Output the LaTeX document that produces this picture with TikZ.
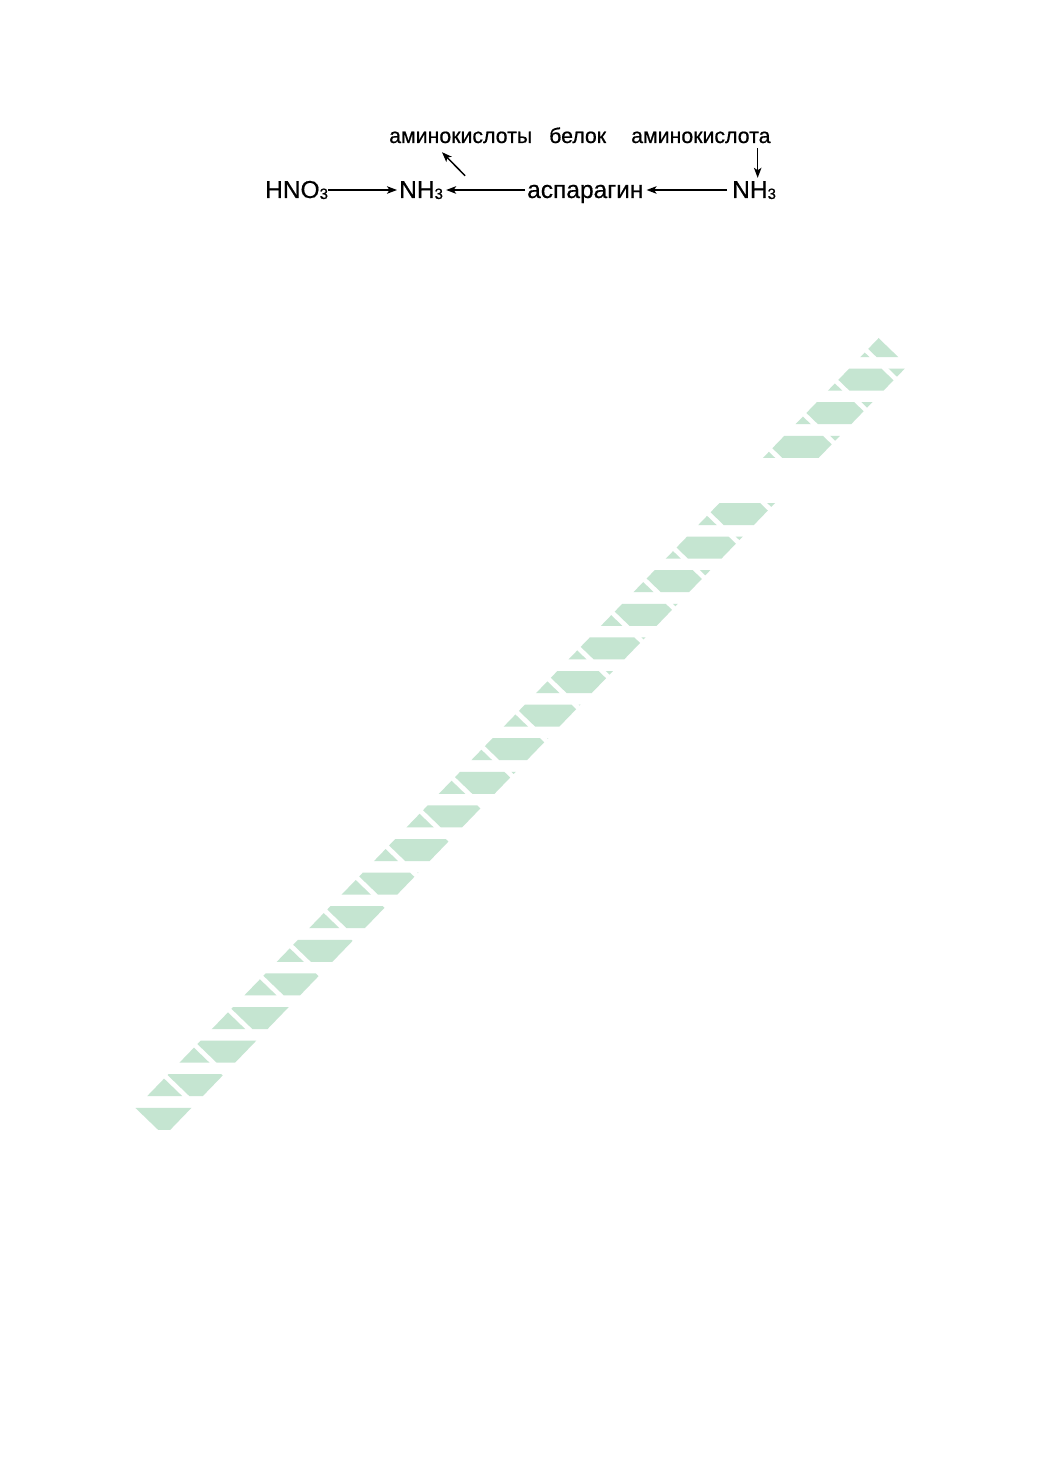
\documentclass[tikz,border=0pt]{standalone}
\usepackage{fontspec}
\setmainfont[FakeBold=0.6]{Liberation Sans}
\usetikzlibrary{arrows.meta,calc}
\definecolor{wmgreen}{RGB}{197,229,209}
\newcommand\subdigit[1]{{\fontsize{15}{15}\selectfont\raisebox{-1pt}{#1}}}
\tikzset{
 chem/.style={inner sep=0pt, anchor=base west, font=\fontsize{24.5}{28}\selectfont, text height=18pt, text depth=2pt},
 word/.style={inner sep=0pt, anchor=base west, font=\fontsize{21.3}{25}\selectfont, text height=15pt, text depth=1pt},
 arr/.style={-{Stealth[length=10pt,width=7.5pt,inset=2.5pt]}, line width=1.5pt, black},
 wm/.style={wmgreen, line width=40pt, dash pattern=on 41pt off 5pt on 38pt off 5pt on 44pt off 5pt}
}
\begin{document}
\begin{tikzpicture}[x=1pt,y=-1pt]
\useasboundingbox[fill=white] (0,0) rectangle (1040,1471);
% watermark band
\begin{scope}
\clip \foreach \k in {-5,-4,-3,-2,0,1,...,19} {(0,{503+33.6*\k}) rectangle (1040,{525+33.6*\k})};
\draw[wm] (150,1122) -- (893,352);
\end{scope}
% nodes
\node[chem] (hno) at (265,198) {HNO\subdigit{3}};
\node[chem] (nha) at (399,198) {NH\subdigit{3}};
\node[chem] (asp) at (527,198) {аспарагин};
\node[chem] (nhb) at (732,198) {NH\subdigit{3}};
\node[word] (aks) at (389,143) {аминокислоты};
\node[word] (bel) at (549,143) {белок};
\node[word] (akt) at (631,143) {аминокислота};
% connectors
\draw[arr] (hno.east) -- ([xshift=-2pt]nha.west);
\draw[arr] ([xshift=-2pt]asp.west) -- ([xshift=3pt]nha.east);
\draw[arr] ([xshift=-5pt]nhb.west) -- ([xshift=3pt]asp.east);
\coordinate (vs) at ([shift={(-13,4)}]akt.south east);
\draw[arr] (vs) -- ($(vs |- nhb.north)+(0,-2)$);
\draw[arr] ([shift={(22,-4)}]nha.north east) -- ([shift={(53,8)}]aks.south west);
\end{tikzpicture}
\end{document}
